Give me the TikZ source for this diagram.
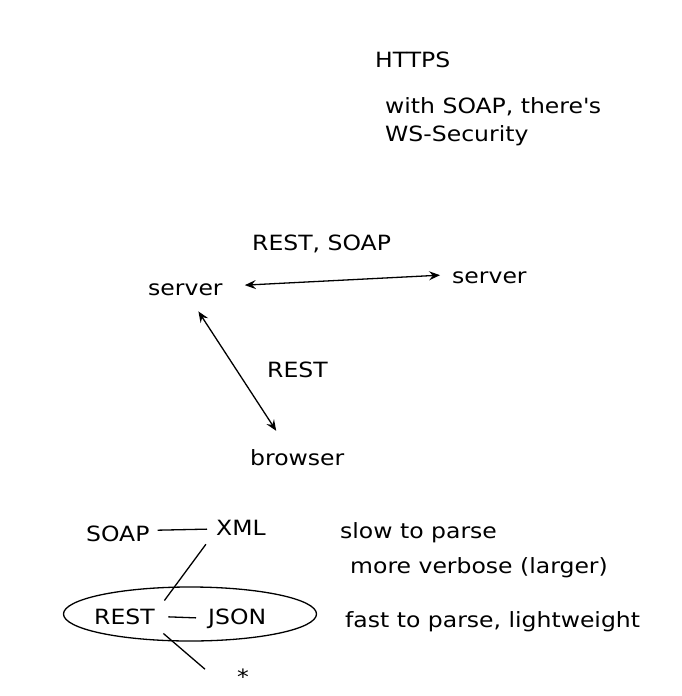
\documentclass[tikz,border=0pt]{standalone}
\usepackage{fontspec}
\setmainfont{DejaVu Sans}[FakeStretch=1.12]
\usetikzlibrary{arrows.meta,shapes.geometric}
\tikzstyle{term}=[inner sep=0pt, anchor=base west
,font=\fontsize{21}{28}\selectfont
]
\tikzstyle{link} = [draw,line width=1.3pt,-]
\tikzstyle{arrow} = [link, {Stealth[length=11pt,width=9pt,inset=4pt]}-{Stealth[length=11pt,width=9pt,inset=4pt]}]

\begin{document}
\begin{tikzpicture}[x=1pt,y=-1pt]
    \useasboundingbox (0,0) rectangle (682,696);
    % Notes at the top
    \node[term] (https) at (375,67) {HTTPS};
    \node[term] (wsa) at (385,113) {with SOAP, there\textquotesingle s};
    \node[term] (wsb) at (385,141) {WS-Security};

    % Servers and browser
    \foreach \pos/\name/\text in {{(252,250)/restsoap/REST, SOAP}, {(148,295)/serverA/server},
        {(452,283)/serverB/server}, {(267,377)/restB/REST}, {(250,465)/browser/browser}}
        \node[term] (\name) at \pos {\text};

    % Formats and remarks
    \foreach \pos/\name/\text in {{(86,541)/soap/SOAP}, {(216,535)/xml/XML}, {(94,624)/rest/REST},
        {(208,624)/json/JSON}, {(237,684)/star/*}, {(340,538)/slow/slow to parse},
        {(350,573)/verbose/more verbose (larger)}, {(345,627)/fast/fast to parse, lightweight}}
        \node[term] (\name) at \pos {\text};

    \node[draw, ellipse, line width=1.3pt, minimum width=253pt, minimum height=54pt, inner sep=0pt] (ring) at (190,614) {};

    % Arrows between the machines
    \path[arrow, shorten <=22pt, shorten >=12pt] ([yshift=3pt]serverA.east) -- ([yshift=2.7pt]serverB.west);
    \path[arrow, shorten <=19pt, shorten >=21.5pt] ([xshift=2.6pt]serverA.south) -- ([xshift=-9.3pt]browser.north);

    % Lines between the formats
    \path[link, shorten <=8pt, shorten >=9pt] ([yshift=3pt]soap.east) -- ([yshift=-1.6pt]xml.west);
    \path[link, shorten <=11.2pt, shorten >=9.6pt] ([xshift=-3.4pt]xml.south west) -- ([xshift=3.8pt]rest.north east);
    \path[link, shorten <=13.5pt, shorten >=12pt] (rest.east) -- (json.west);
    \path[link, shorten <=13.8pt, shorten >=23pt] ([xshift=-2pt]rest.south east) -- ([xshift=-14.5pt]star.south west);
\end{tikzpicture}
\end{document}
